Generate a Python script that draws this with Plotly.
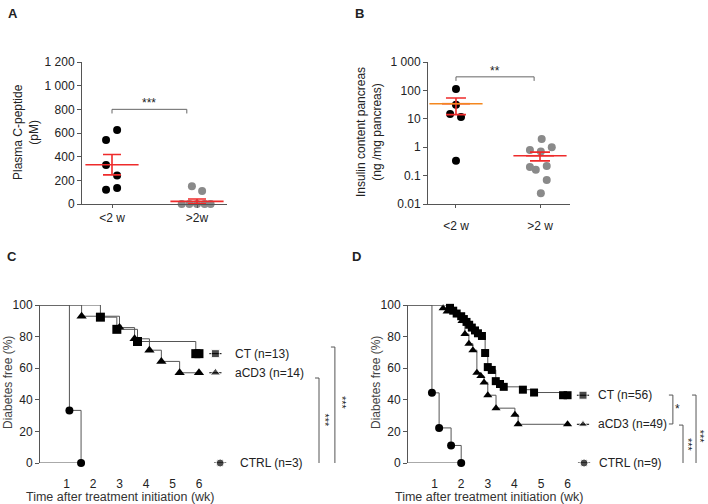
import plotly.graph_objects as go
import numpy as np

W, H = 708, 504
FONT = "Arial, Liberation Sans, sans-serif"
AXC = "#555555"
TXT = "#222222"
RED = "#ee2b2b"
ORANGE = "#f4871f"
GRAY = "#8a8a8a"

# ---------------- Panel A data ----------------
a_groups = ["<2 w", ">2w"]
a_lt2 = [540, 625, 330, 240, 120, 135]
a_gt2 = [150, 110, 0, 0, 0, 0, 0]
a_mean = [332, 22]
a_sem = [86, 20]
a_yticks = [0, 200, 400, 600, 800, 1000, 1200]
a_yticktext = ["0", "200", "400", "600", "800", "1 000", "1 200"]
a_sig_y = 800

# ---------------- Panel B data ----------------
b_groups = ["<2 w", ">2 w"]
b_lt2 = [112, 31, 14.8, 11.5, 0.33]
b_gt2 = [1.95, 0.8, 1.0, 0.7, 0.2, 0.16, 0.22, 0.07, 0.024]
b_mean = [34, 0.5]
b_sem = [20, 0.17]
b_yticks = [0.01, 0.1, 1, 10, 100, 1000]
b_yticktext = ["0.01", "0.1", "1", "10", "100", "1 000"]
b_sig_y = 300

# ---------------- Panel C data (Kaplan-Meier) ----------------
c_ct_t = [2.28, 2.9, 3.68, 5.88]
c_ct_s = [92.3, 84.6, 76.9, 69.2]
c_acd3_t = [1.57, 3.0, 3.57, 4.13, 4.58, 5.27]
c_acd3_s = [92.9, 85.7, 78.6, 71.4, 64.3, 57.1]
c_ctrl_t = [1.11, 1.55]
c_ctrl_s = [33.3, 0]
c_end = 6.0

# ---------------- Panel D data (Kaplan-Meier) ----------------
d_ct_t = [1.58, 1.7, 1.83, 2.0, 2.1, 2.2, 2.3, 2.4, 2.52, 2.63, 2.78, 2.9, 3.0,
          3.15, 3.3, 3.46, 3.6, 4.32, 4.74, 5.83]
d_ct_s = [98.2, 96.4, 94.6, 92.9, 91.1, 89.3, 87.5, 85.7, 83.9, 82.1, 80.4, 69.6,
          60.7, 58.9, 51.8, 50.0, 48.2, 46.4, 44.6, 42.9]
d_acd3_t = [1.32, 1.47, 1.88, 2.03, 2.14, 2.29, 2.44, 2.59, 2.74, 2.86, 3.0, 3.31, 4.02, 4.14]
d_acd3_s = [98.0, 95.9, 93.9, 89.8, 81.6, 75.5, 71.4, 57.1, 55.1, 51.0, 42.9, 34.7, 30.6, 24.5]
d_ctrl_t = [0.9, 1.17, 1.62, 2.0]
d_ctrl_s = [44.4, 22.2, 11.1, 0]
d_end = 6.0

km_xticks = [1, 2, 3, 4, 5, 6]
km_yticks = [0, 20, 40, 60, 80, 100]

# layout helpers (jitter offsets of the dot plots)
a_lt2_off = [-0.07, 0.06, -0.07, 0.06, -0.07, 0.06]
a_gt2_off = [-0.06, 0.06, -0.18, -0.09, 0.0, 0.09, 0.16]
b_lt2_off = [0.0, 0.0, -0.07, 0.06, 0.0]
b_gt2_off = [0.02, -0.12, 0.14, 0.01, -0.12, -0.05, 0.08, 0.08, 0.01]

fig = go.Figure()


def px_x(p):
    return p / W


def px_y(p):
    return 1 - p / H


# ---- Panel A traces ----
fig.add_trace(go.Scatter(x=[0 + o for o in a_lt2_off], y=a_lt2, mode="markers",
                         marker=dict(color="black", size=8), cliponaxis=False,
                         xaxis="x", yaxis="y"))
fig.add_trace(go.Scatter(x=[1 + o for o in a_gt2_off], y=a_gt2, mode="markers",
                         marker=dict(color=GRAY, size=8), cliponaxis=False,
                         xaxis="x", yaxis="y"))
fig.add_trace(go.Scatter(x=[0, 1], y=a_mean, mode="markers",
                         marker=dict(symbol="line-ew", size=38, line=dict(color=RED, width=1.6)),
                         error_y=dict(type="data", array=a_sem, color=RED, thickness=1.6, width=9),
                         cliponaxis=False, xaxis="x", yaxis="y"))
fig.add_trace(go.Scatter(x=[0, 0, 0.88, 0.88], y=[a_sig_y - 35, a_sig_y, a_sig_y, a_sig_y - 35],
                         mode="lines", line=dict(color="#666", width=1), xaxis="x", yaxis="y"))

# ---- Panel B traces ----
fig.add_trace(go.Scatter(x=[0 + o for o in b_lt2_off], y=b_lt2, mode="markers",
                         marker=dict(color="black", size=8), cliponaxis=False,
                         xaxis="x2", yaxis="y2"))
fig.add_trace(go.Scatter(x=[1 + o for o in b_gt2_off], y=b_gt2, mode="markers",
                         marker=dict(color=GRAY, size=8), cliponaxis=False,
                         xaxis="x2", yaxis="y2"))
fig.add_trace(go.Scatter(x=[0, 1], y=b_mean, mode="markers",
                         marker=dict(symbol="line-ew", size=20, line=dict(color=RED, width=1.6)),
                         error_y=dict(type="data", array=b_sem, color=RED, thickness=1.6, width=10),
                         cliponaxis=False, xaxis="x2", yaxis="y2"))
fig.add_trace(go.Scatter(x=[0], y=[b_mean[0]], mode="markers",
                         marker=dict(symbol="line-ew", size=38, line=dict(color=ORANGE, width=1.6)),
                         cliponaxis=False, xaxis="x2", yaxis="y2"))
fig.add_trace(go.Scatter(x=[1], y=[b_mean[1]], mode="markers",
                         marker=dict(symbol="line-ew", size=38, line=dict(color=RED, width=1.6)),
                         cliponaxis=False, xaxis="x2", yaxis="y2"))
fig.add_trace(go.Scatter(x=[0, 0, 0.93, 0.93], y=[b_sig_y * 0.72, b_sig_y, b_sig_y, b_sig_y * 0.72],
                         mode="lines", line=dict(color="#666", width=1), xaxis="x2", yaxis="y2"))


# ---- KM helper ----
def km(t, s, end, symbol, msize, xa, ya):
    xs = [0] + list(t)
    ys = [100] + list(s)
    mx = list(t)
    my = list(s)
    if end is not None:
        xs.append(end)
        ys.append(s[-1])
        mx.append(end)
        my.append(s[-1])
    fig.add_trace(go.Scatter(x=xs, y=ys, mode="lines", line=dict(color="#555", width=1, shape="hv"),
                             cliponaxis=False, xaxis=xa, yaxis=ya))
    fig.add_trace(go.Scatter(x=mx, y=my, mode="markers",
                             marker=dict(symbol=symbol, color="black", size=msize),
                             cliponaxis=False, xaxis=xa, yaxis=ya))


def leg(xc, y, symbol, msize, xa, ya):
    fig.add_trace(go.Scatter(x=[xc - 0.23, xc, xc + 0.23], y=[y, y, y], mode="lines+markers",
                             line=dict(color="black", width=1),
                             marker=dict(symbol=symbol, color="black", size=[0, msize, 0]),
                             cliponaxis=False, xaxis=xa, yaxis=ya))


def bracket(xb, top, bot, xa, ya, dx=0.15):
    fig.add_trace(go.Scatter(x=[xb - dx, xb, xb, xb - dx], y=[top, top, bot, bot], mode="lines",
                             line=dict(color="#555", width=1), cliponaxis=False, xaxis=xa, yaxis=ya))


# Panel C
fig.add_trace(go.Scatter(x=[0, c_ctrl_t[-1]], y=[0, 0], mode="lines", line=dict(color="#555", width=1),
                         cliponaxis=False, xaxis="x3", yaxis="y3"))
km(c_ctrl_t, c_ctrl_s, None, "circle", 8, "x3", "y3")
km(c_acd3_t, c_acd3_s, c_end, "triangle-up", 9, "x3", "y3")
km(c_ct_t, c_ct_s, c_end, "square", 9, "x3", "y3")
leg(6.62, c_ct_s[-1], "square", 8, "x3", "y3")
leg(6.62, c_acd3_s[-1], "triangle-up", 9, "x3", "y3")
leg(6.8, 0, "circle", 8, "x3", "y3")
bracket(10.53, 53.8, -1.9, "x3", "y3")
bracket(11.13, 73.4, -1.3, "x3", "y3")

# Panel D
fig.add_trace(go.Scatter(x=[0, d_ctrl_t[-1]], y=[0, 0], mode="lines", line=dict(color="#555", width=1),
                         cliponaxis=False, xaxis="x4", yaxis="y4"))
km(d_ctrl_t, d_ctrl_s, None, "circle", 8, "x4", "y4")
km(d_acd3_t, d_acd3_s, d_end, "triangle-up", 8, "x4", "y4")
km(d_ct_t, d_ct_s, d_end, "square", 8, "x4", "y4")
leg(6.58, d_ct_s[-1], "square", 8, "x4", "y4")
leg(6.58, d_acd3_s[-1], "triangle-up", 8, "x4", "y4")
leg(6.62, 0, "circle", 8, "x4", "y4")
bracket(9.96, 43, 24.7, "x4", "y4")
bracket(10.34, 24, -0.5, "x4", "y4")
bracket(10.83, 43, -0.5, "x4", "y4")

tickfont = dict(family=FONT, size=12, color=TXT)
common_y = dict(showline=True, linecolor=AXC, linewidth=1, ticks="outside", ticklen=4, tickcolor=AXC,
                showgrid=False, zeroline=False, tickfont=tickfont, automargin=False)
yd_top = [px_y(204), px_y(62)]
yd_bot = [px_y(463), px_y(305)]

fig.update_layout(
    width=W, height=H, margin=dict(l=0, r=0, t=0, b=0),
    paper_bgcolor="white", plot_bgcolor="white", showlegend=False,
    xaxis=dict(domain=[px_x(82), px_x(227)], range=[-0.353, 1.353], tickvals=[0, 1], ticktext=a_groups,
               showline=True, linecolor=AXC, ticks="outside", ticklen=3, tickcolor=AXC,
               showgrid=False, zeroline=False, tickfont=tickfont, anchor="y", automargin=False),
    yaxis=dict(domain=yd_top, range=[0, 1200], tickvals=a_yticks, ticktext=a_yticktext, anchor="x", **common_y),
    xaxis2=dict(domain=[px_x(428), px_x(570)], range=[-0.333, 1.357], tickvals=[0, 1], ticktext=b_groups,
                showline=True, linecolor=AXC, ticks="outside", ticklen=3, tickcolor=AXC,
                showgrid=False, zeroline=False, tickfont=tickfont, anchor="y2", ticklabelstandoff=8,
                automargin=False),
    yaxis2=dict(domain=yd_top, type="log", range=[-2, 3], tickvals=b_yticks, ticktext=b_yticktext,
                anchor="x2", **common_y),
    xaxis3=dict(domain=[px_x(40), px_x(350)], range=[0, 11.7], tickvals=km_xticks, showline=False,
                ticks="", showgrid=False, zeroline=False, tickfont=tickfont, anchor="y3", ticklabelstandoff=12,
                automargin=False),
    yaxis3=dict(domain=yd_bot, range=[0, 100], tickvals=km_yticks, anchor="x3", **common_y),
    xaxis4=dict(domain=[px_x(408), 1.0], range=[0, 11.28], tickvals=km_xticks, showline=False,
                ticks="", showgrid=False, zeroline=False, tickfont=tickfont, anchor="y4", ticklabelstandoff=12,
                automargin=False),
    yaxis4=dict(domain=yd_bot, range=[0, 100], tickvals=km_yticks, anchor="x4", **common_y),
)

anns = []


def pann(text, x, y, size=12, angle=0, bold=False, xanchor="center", color=TXT):
    anns.append(dict(text=f"<b>{text}</b>" if bold else text, x=px_x(x), y=px_y(y), xref="paper",
                     yref="paper", showarrow=False, textangle=angle, xanchor=xanchor, yanchor="middle",
                     font=dict(family=FONT, size=size, color=color)))


pann("A", 13, 13, 13, bold=True)
pann("B", 359, 13, 13, bold=True)
pann("C", 12, 256, 13, bold=True)
pann("D", 356, 256, 13, bold=True)
pann("Plasma C-peptide<br>(pM)", 26, 132, 12, angle=-90)
pann("Insulin content pancreas<br>(ng /mg pancreas)", 369, 132, 12, angle=-90)
pann("Diabetes free (%)", 8, 383, 12, angle=-90, color="#444")
pann("Diabetes free (%)", 376, 383, 12, angle=-90, color="#444")
pann("Time after treatment initiation (wk)", 120, 497, 12.5, color="#333")
pann("Time after treatment initiation (wk)", 489, 497, 12.5, color="#333")


def dann(text, x, y, xa, ya, size=12, angle=0, xanchor="center", yshift=0):
    anns.append(dict(text=text, x=x, y=y, xref=xa, yref=ya, showarrow=False, textangle=angle,
                     xanchor=xanchor, yanchor="middle", yshift=yshift,
                     font=dict(family=FONT, size=size, color=TXT)))


dann("***", 0.44, a_sig_y, "x", "y", size=12, yshift=6)
dann("**", 0.465, np.log10(b_sig_y), "x2", "y2", size=12, yshift=6)
dann("CT (n=13)", 7.28, c_ct_s[-1], "x3", "y3", xanchor="left")
dann("aCD3 (n=14)", 7.28, c_acd3_s[-1], "x3", "y3", xanchor="left")
dann("CTRL (n=3)", 7.48, 0, "x3", "y3", xanchor="left")
dann("***", 10.75, 27, "x3", "y3", size=11, angle=90)
dann("***", 11.4, 38, "x3", "y3", size=11, angle=90)
dann("CT (n=56)", 7.05, d_ct_s[-1], "x4", "y4", xanchor="left")
dann("aCD3 (n=49)", 7.05, d_acd3_s[-1], "x4", "y4", xanchor="left")
dann("CTRL (n=9)", 7.1, 0, "x4", "y4", xanchor="left")
dann("*", 10.15, 34, "x4", "y4", size=12)
dann("***", 10.53, 11.4, "x4", "y4", size=11, angle=90)
dann("***", 10.99, 16.5, "x4", "y4", size=11, angle=90)

fig.update_layout(annotations=anns)
fig.write_html("out.html", config={"displayModeBar": False},
               post_script="document.body.style.margin='0px';")
